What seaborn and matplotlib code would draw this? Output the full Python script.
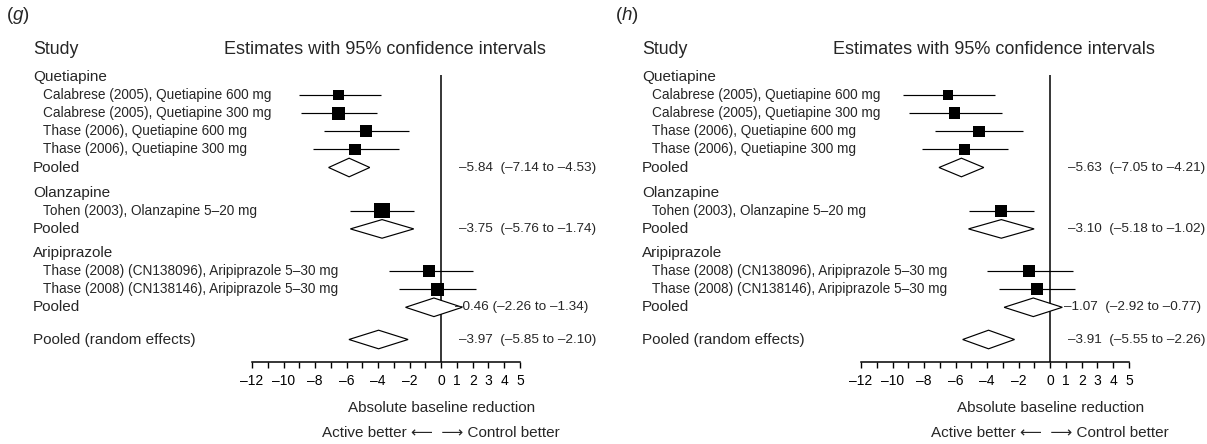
import numpy as np
import pandas as pd
import matplotlib
matplotlib.use("Agg")
import matplotlib.pyplot as plt
import seaborn as sns
from matplotlib.patches import Polygon

# ---------------- data ----------------
groups = ["Quetiapine", "Olanzapine", "Aripiprazole"]
study_labels = [
    "Calabrese (2005), Quetiapine 600 mg",
    "Calabrese (2005), Quetiapine 300 mg",
    "Thase (2006), Quetiapine 600 mg",
    "Thase (2006), Quetiapine 300 mg",
    "Tohen (2003), Olanzapine 5\u201320 mg",
    "Thase (2008) (CN138096), Aripiprazole 5\u201330 mg",
    "Thase (2008) (CN138146), Aripiprazole 5\u201330 mg",
]
study_group = [0, 0, 0, 0, 1, 2, 2]

# panel (g)
g_est = [-6.52, -6.52, -4.74, -5.47, -3.75, -0.78, -0.24]
g_lo = [-9.00, -8.88, -7.42, -8.15, -5.76, -3.28, -2.68]
g_hi = [-3.82, -4.06, -2.02, -2.68, -1.74, 2.00, 2.19]
g_weight = [10.7, 12.7, 12.0, 11.7, 15.3, 12.3, 12.7]
g_pool_est = [-5.84, -3.75, -0.46, -3.97]
g_pool_lo = [-7.14, -5.76, -2.26, -5.85]
g_pool_hi = [-4.53, -1.74, 1.34, -2.10]
g_pool_text = ["\u20135.84  (\u20137.14 to \u20134.53)",
               "\u20133.75  (\u20135.76 to \u20131.74)",
               "\u20130.46 (\u20132.26 to \u20131.34)",
               "\u20133.97  (\u20135.85 to \u20132.10)"]

# panel (h)
h_est = [-6.49, -6.07, -4.52, -5.45, -3.10, -1.33, -0.84]
h_lo = [-9.31, -8.97, -7.30, -8.16, -5.18, -4.03, -3.24]
h_hi = [-3.49, -3.07, -1.70, -2.68, -1.02, 1.47, 1.55]
h_weight = [10.0, 11.5, 11.5, 10.8, 12.3, 11.5, 12.3]
h_pool_est = [-5.63, -3.10, -1.07, -3.91]
h_pool_lo = [-7.05, -5.18, -2.92, -5.55]
h_pool_hi = [-4.21, -1.02, 0.77, -2.26]
h_pool_text = ["\u20135.63  (\u20137.05 to \u20134.21)",
               "\u20133.10  (\u20135.18 to \u20131.02)",
               "\u20131.07  (\u20132.92 to \u20130.77)",
               "\u20133.91  (\u20135.55 to \u20132.26)"]

pool_labels = ["Pooled", "Pooled", "Pooled", "Pooled (random effects)"]
tick_values = list(range(-12, 6))

# ---------------- style ----------------
sns.set_style("white")
REG = ["Liberation Sans", "DejaVu Sans"]
NAR = ["Liberation Sans Narrow", "Liberation Sans", "DejaVu Sans"]
plt.rcParams["font.family"] = REG
plt.rcParams["mathtext.fontset"] = "custom"
plt.rcParams["mathtext.rm"] = "Liberation Sans"
plt.rcParams["mathtext.it"] = "Liberation Sans:italic"

W, H = 1207, 444
fig = plt.figure(figsize=(W / 100, H / 100), dpi=100)

X0, X1 = 252, 520          # pixel of -12 and 5 in the left panel
UNIT = (X1 - X0) / 17.0
AXIS_Y = 361.7
ROW = 18.1

# row layout (pixel y of each row)
layout = [("group", 0, 0.0)] + [("study", i, 0.0) for i in range(4)] + [("pool", 0, 0.0)] \
    + [("group", 1, 7.1), ("study", 4, 0.0), ("pool", 1, 0.0)] \
    + [("group", 2, 6.0), ("study", 5, 0.0), ("study", 6, 0.0), ("pool", 2, 0.0)] \
    + [("pool", 3, 14.1)]
ys = []
y = 77.0 - ROW
for kind, idx, gap in layout:
    y = y + ROW + gap
    ys.append(y)
group_y = {idx: yy for (k, idx, g), yy in zip(layout, ys) if k == "group"}
study_y = [yy for (k, idx, g), yy in zip(layout, ys) if k == "study"]
pool_y = [yy for (k, idx, g), yy in zip(layout, ys) if k == "pool"]


def fmt(v):
    return ("\u2013%d" % (-v)) if v < 0 else "%d" % v


def draw_panel(off, letter, est, lo, hi, weight, p_est, p_lo, p_hi, p_text, txt_dx, ari_dx):
    ax = fig.add_axes([(X0 + off) / W, 0, (X1 - X0) / W, 1])
    px = lambda p: -12 + (p - X0 - off) / UNIT

    # CI lines
    ax.hlines(study_y, lo, hi, color="black", lw=0.85, clip_on=False, zorder=2)
    # squares
    df = pd.DataFrame({"est": est, "y": study_y, "w": weight})
    sns.scatterplot(data=df, x="est", y="y", size="w",
                    sizes={w: (w * 0.72) ** 2 for w in weight},
                    marker="s", color="black", edgecolor="none", linewidth=0,
                    legend=False, ax=ax, clip_on=False, zorder=3)
    # diamonds
    hh = 9.3
    for e, l, h_, yy in zip(p_est, p_lo, p_hi, pool_y):
        ax.add_patch(Polygon([(l, yy), (e, yy - hh), (h_, yy), (e, yy + hh)],
                             closed=True, facecolor="white", edgecolor="black",
                             lw=0.85, clip_on=False, zorder=3))
    # zero line
    ax.vlines(0, 75, AXIS_Y, color="black", lw=1.1, zorder=1)

    ax.set_xlim(-12, 5)
    ax.set_ylim(H, 0)
    ax.set_xlabel("")
    ax.set_ylabel("")
    ax.set_yticks([])
    for s in ["left", "right", "top"]:
        ax.spines[s].set_visible(False)
    ax.spines["bottom"].set_position(("data", AXIS_Y))
    ax.spines["bottom"].set_bounds(-12, 5)
    ax.spines["bottom"].set_linewidth(1.1)
    ax.spines["bottom"].set_color("black")
    ax.set_xticks(tick_values)
    ax.set_xticklabels([fmt(v) if (v >= 0 or v % 2 == 0) else "" for v in tick_values])
    ax.tick_params(axis="x", direction="out", length=4, width=1.0, pad=5,
                   labelsize=10, colors="black", bottom=True)
    ax.patch.set_alpha(0)

    # texts
    ax.text(px(6 + off), 15, "($%s$)" % letter, fontsize=13.5, ha="left", va="center")
    ax.text(px(33 + off), 50, "Study", fontsize=12.8, family=NAR, ha="left", va="center")
    ax.text(px(385 + off), 50, "Estimates with 95% confidence intervals",
            fontsize=13, ha="center", va="center")
    for gi, gname in enumerate(groups):
        ax.text(px(33 + off), group_y[gi], gname, fontsize=11, family=NAR,
                ha="left", va="center")
    for lab, yy in zip(study_labels, study_y):
        ax.text(px(43 + off), yy, lab, fontsize=9.8, ha="left", va="center")
    for i, (lab, yy, t) in enumerate(zip(pool_labels, pool_y, p_text)):
        ax.text(px(33 + off), yy, lab, fontsize=11, family=NAR, ha="left", va="center")
        dx = ari_dx if i == 2 else txt_dx
        ax.text(dx / UNIT, yy, t, fontsize=9.7, ha="left", va="center")
    ax.text(0, 408, "Absolute baseline reduction", fontsize=11, ha="center", va="center")
    ax.text(0, 433, "Active better \u27f5  \u27f6 Control better", fontsize=11,
            ha="center", va="center")
    return ax


draw_panel(0, "g", g_est, g_lo, g_hi, g_weight, g_pool_est, g_pool_lo, g_pool_hi,
           g_pool_text, 18, 14)
draw_panel(609, "h", h_est, h_lo, h_hi, h_weight, h_pool_est, h_pool_lo, h_pool_hi,
           h_pool_text, 18, 14)

fig.savefig("out.png", dpi=100)
